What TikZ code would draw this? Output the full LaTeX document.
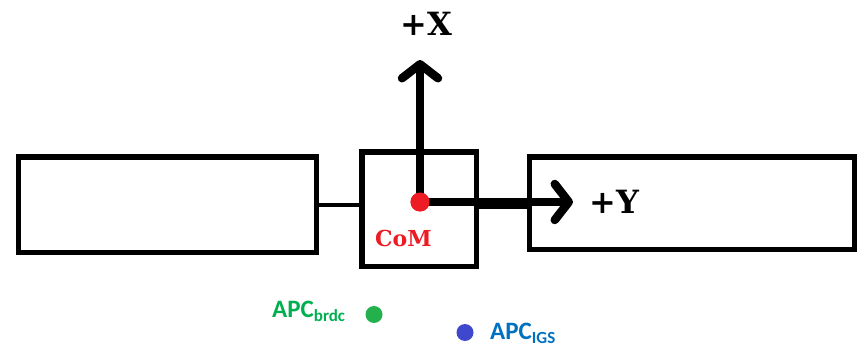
\documentclass[tikz,border=0pt]{standalone}
\usepackage{fontspec}
\usepackage{xcolor}
\usepackage{tikz}
\usetikzlibrary{arrows.meta, positioning}
\newfontfamily\axisfont{DejaVu Serif}[BoldFont={DejaVu Serif Bold}]
\newfontfamily\apcfont{Carlito}
\definecolor{comRed}{HTML}{ED1C24}
\definecolor{brdcGreen}{HTML}{00B050}
\definecolor{brdcDot}{HTML}{22B14C}
\definecolor{igsBlue}{HTML}{0070C0}
\definecolor{igsDot}{HTML}{3F48CC}
\newcommand{\apcsub}[1]{\raisebox{-4pt}{\fontsize{17}{17}\selectfont #1}}

\begin{document}
\begin{tikzpicture}[x=1pt, y=-1pt,
        panel/.style={rectangle, draw=black, line width=5.5pt, fill=white, inner sep=0pt},
        axis/.style={-{Straight Barb[length=14pt, width=36pt, round]}, line width=8.5pt},
        axislabel/.style={font=\axisfont\bfseries\fontsize{32}{32}\selectfont, inner sep=0pt},
        apclabel/.style={font=\apcfont\bfseries\fontsize{25}{25}\selectfont, inner sep=0pt, anchor=base west},
        dot/.style={circle, inner sep=0pt, minimum size=17pt}]
    \useasboundingbox (0,0) rectangle (862,347);

    % Satellite body and solar panels
    \node[panel, minimum width=298pt, minimum height=95.5pt] (leftpanel) at (167.5,205) {};
    \node[panel, minimum width=114.5pt, minimum height=114.5pt] (combox) at (419.25,209.25) {};
    \node[panel, minimum width=325pt, minimum height=92.5pt] (rightpanel) at (692,203.25) {};
    \draw[line width=4pt] (leftpanel.east) -- (leftpanel.east -| combox.west);

    % Centre of mass and body axes
    \node[dot, minimum size=19pt, fill=comRed] (com) at (420,202) {};
    \coordinate (xtip) at (420,60);
    \coordinate (ytip) at (573,202);
    \draw[line width=11.5pt] ([yshift=-1.5pt]combox.east |- com) -- ([yshift=-1.5pt]rightpanel.west |- com);
    \draw[axis] (com.center) -- (xtip);
    \draw[axis] (com.center) -- (ytip);
    \node[dot, minimum size=19pt, fill=comRed] at (com) {};
    \node[axislabel, above=24pt of xtip, xshift=6pt] (xlabel) {+X};
    \node[axislabel, right=16pt of ytip, anchor=west] (ylabel) {+Y};
    \node[font=\axisfont\bfseries\fontsize{22}{22}\selectfont, text=comRed, inner sep=0pt, anchor=base] (comlabel) at (403.5,247) {CoM};

    % Antenna phase centres
    \node[dot, fill=brdcDot] (brdc) at (374,314.5) {};
    \node[dot, fill=igsDot] (igs) at (465,332.5) {};
    \node[apclabel, text=brdcGreen] (brdclabel) at (272,317) {APC\apcsub{brdc}};
    \node[apclabel, text=igsBlue] (igslabel) at (490,339) {APC\apcsub{IGS}};
\end{tikzpicture}
\end{document}
